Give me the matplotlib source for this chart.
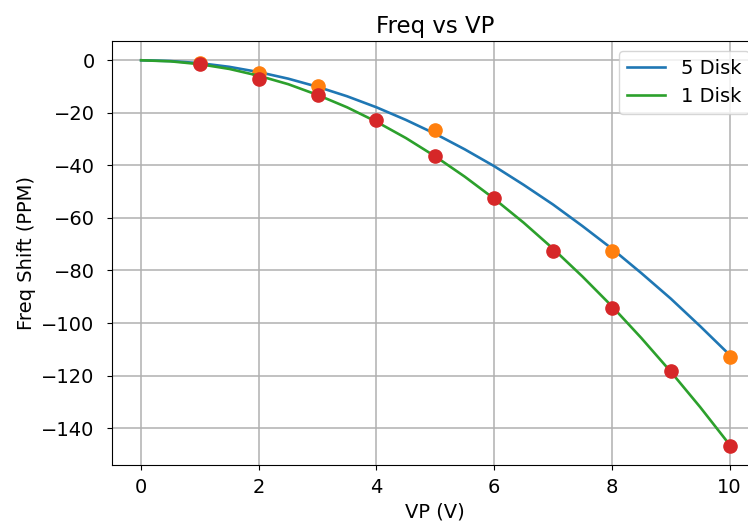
import matplotlib
matplotlib.use("Agg")
import matplotlib.pyplot as plt

# fitted curves, every half volt
vp_fit = [0, 0.5, 1, 1.5, 2, 2.5, 3, 3.5, 4, 4.5, 5,
          5.5, 6, 6.5, 7, 7.5, 8, 8.5, 9, 9.5, 10]
fit_5disk = [0, -0.3, -1.1, -2.5, -4.5, -7.0, -10.1, -13.7, -17.9, -22.7, -28.0,
             -33.9, -40.3, -47.4, -54.9, -63.1, -71.7, -81.0, -90.7, -101.2, -112.1]
fit_1disk = [0, -0.4, -1.5, -3.3, -5.9, -9.1, -13.2, -17.9, -23.4, -29.6, -36.6,
             -44.3, -52.7, -61.8, -71.7, -82.3, -93.6, -105.7, -118.5, -132.0, -146.3]

# measured points
vp_5disk = [1, 2, 3, 5, 8, 10]
shift_5disk = [-1.1, -4.8, -9.8, -26.4, -72.5, -113.0]
vp_1disk = [1, 2, 3, 4, 5, 6, 7, 8, 9, 10]
shift_1disk = [-1.3, -7.3, -13.3, -22.8, -36.3, -52.5, -72.5, -94.1, -118.3, -146.7]

plt.rcParams['font.size'] = 14
plt.rcParams['xtick.major.pad'] = 5.5
plt.rcParams['ytick.major.pad'] = 8.5
plt.rcParams['xtick.major.size'] = 3.8
plt.rcParams['ytick.major.size'] = 3.8

fig = plt.figure(figsize=(7.48, 5.25), dpi=100)
# axes run a little past the right edge, like the cropped original
ax = fig.add_axes([0.1493, 0.1143, 0.8654, 0.8076])

ax.plot(vp_fit, fit_5disk, color="#1f77b4", lw=1.9, label="5 Disk")
ax.plot(vp_5disk, shift_5disk, "o", color="#ff7f0e", markersize=9.5)
ax.plot(vp_fit, fit_1disk, color="#2ca02c", lw=1.9, label="1 Disk")
ax.plot(vp_1disk, shift_1disk, "o", color="#d62728", markersize=9.5)

ax.set_title("Freq vs VP", fontsize=16.5)
ax.set_xlabel("VP (V)")
ax.set_ylabel("Freq Shift (PPM)")
ax.grid(True, lw=1.1)
ax.legend(loc="upper right")

fig.savefig("out.png", dpi=100)
